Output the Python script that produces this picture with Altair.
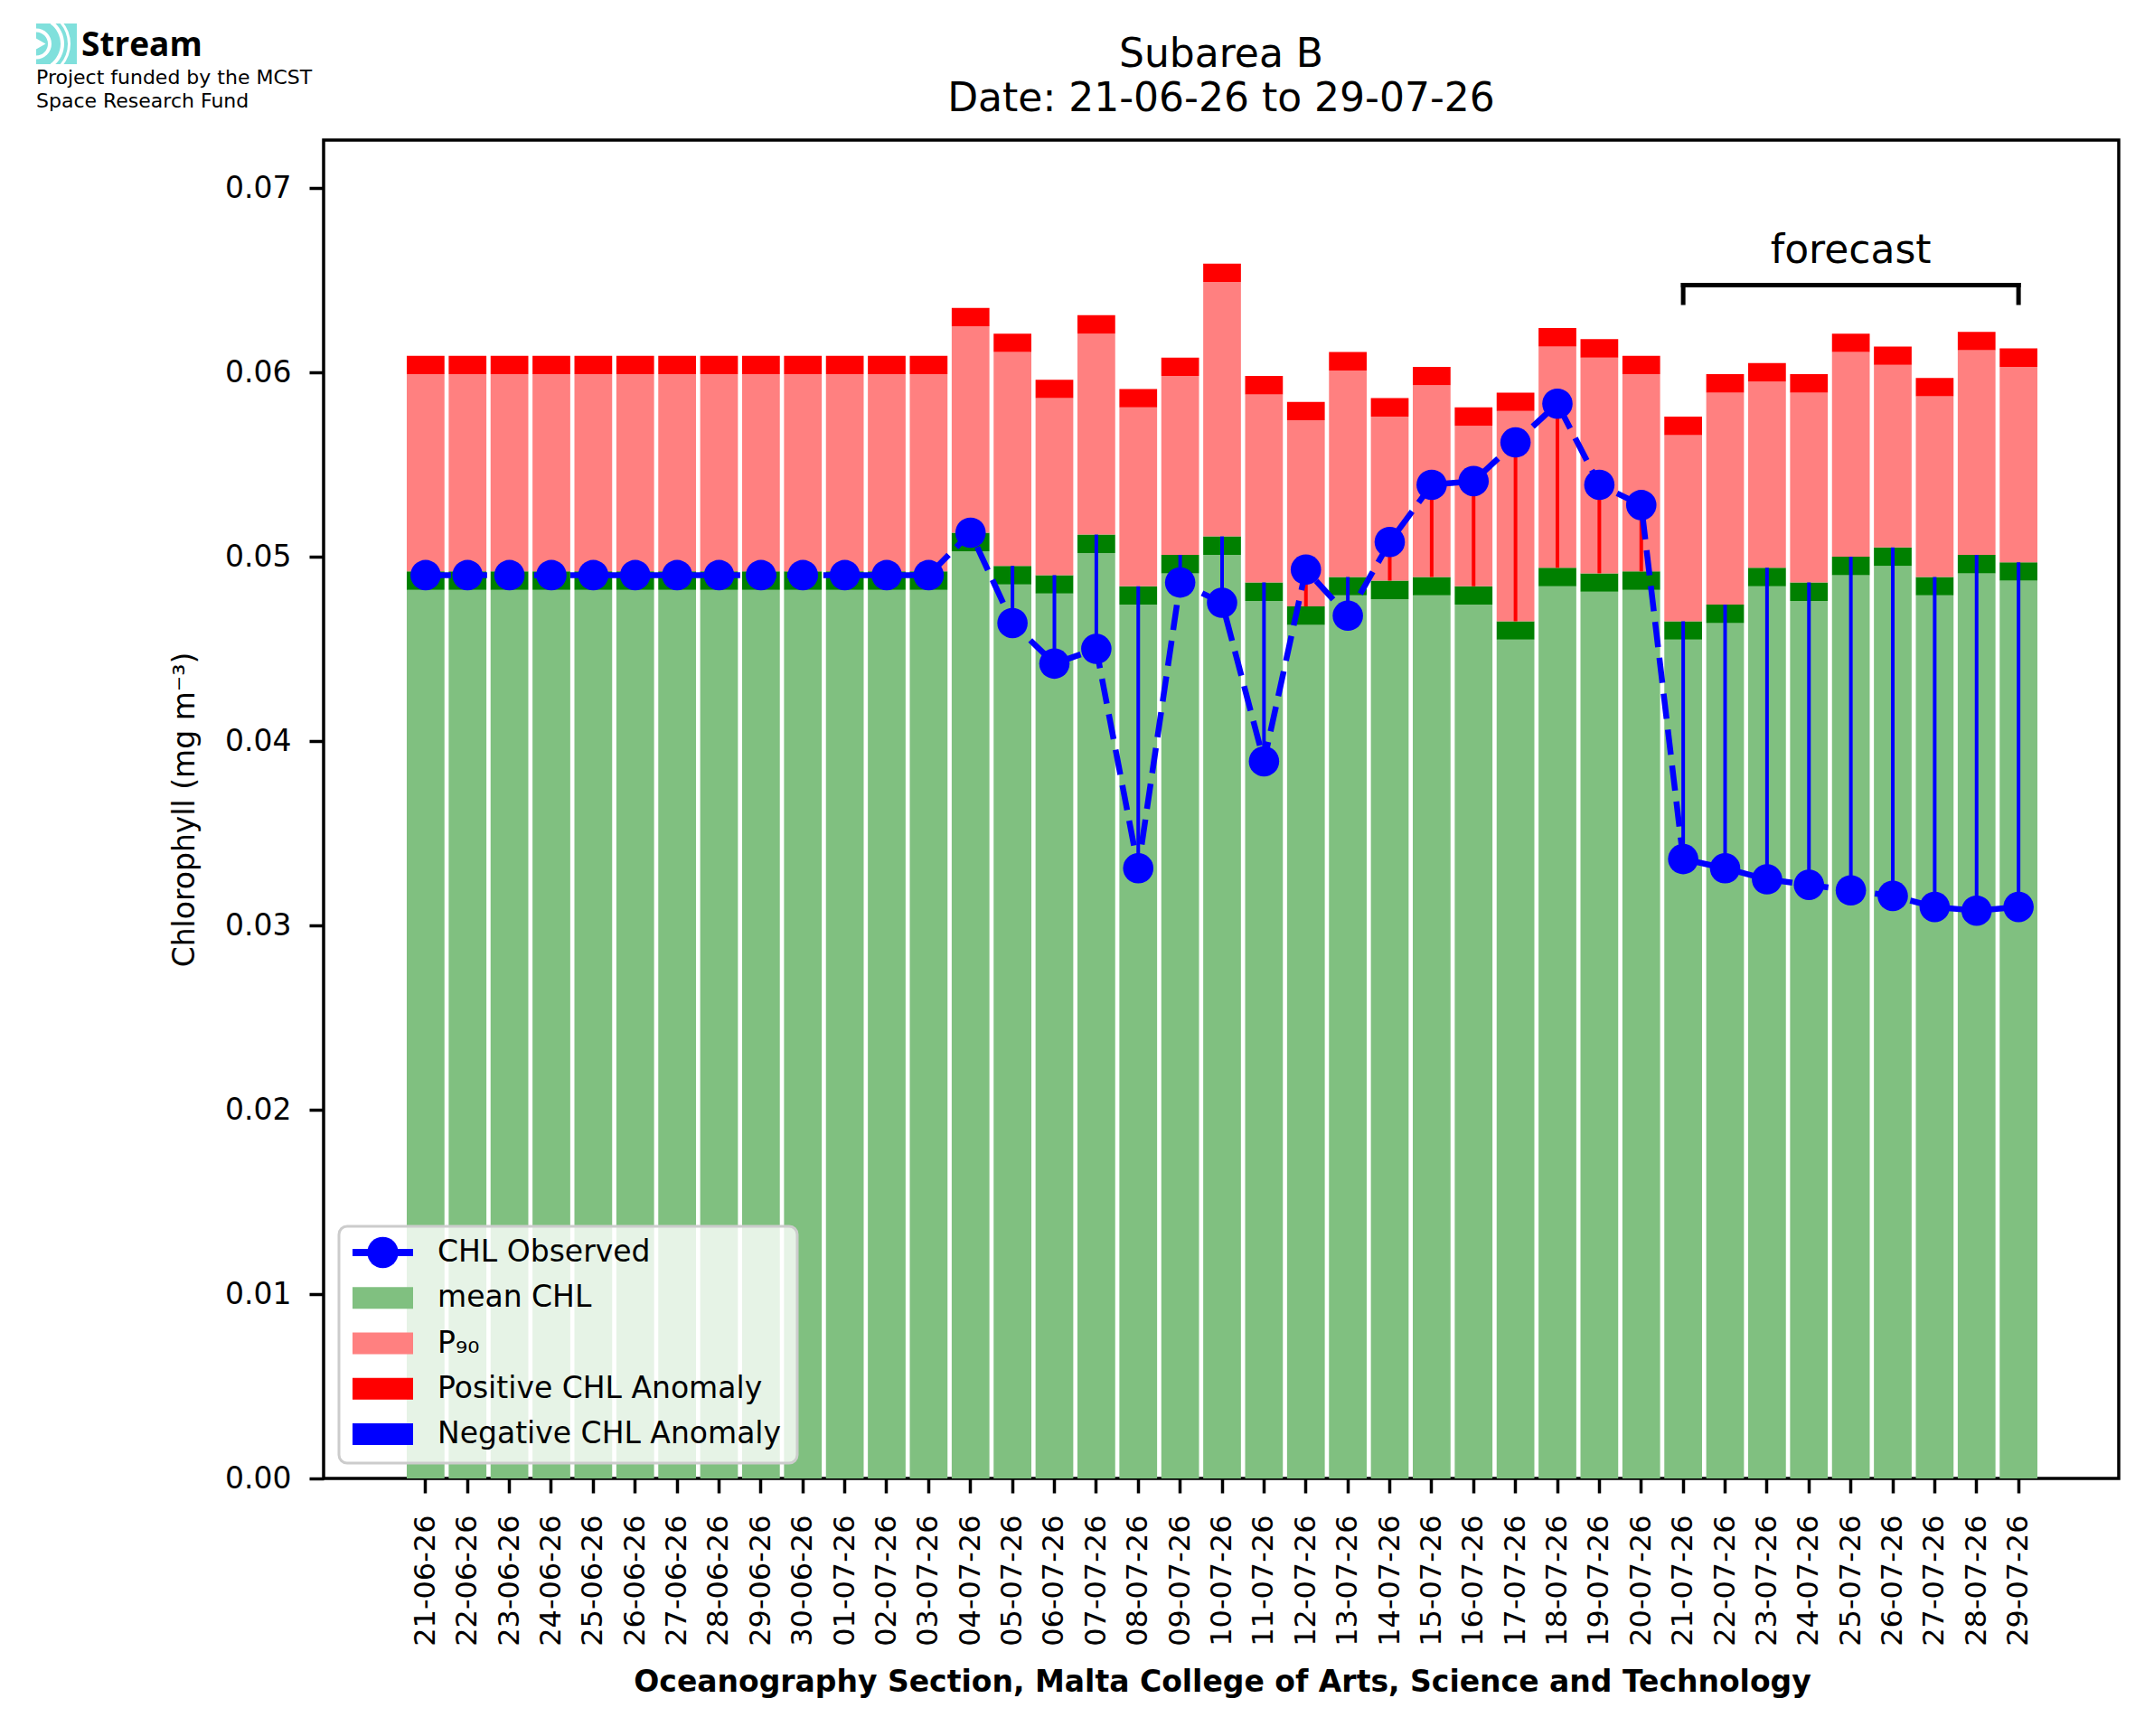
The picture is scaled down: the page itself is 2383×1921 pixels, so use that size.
import altair as alt
import pandas as pd

# ---- data ------------------------------------------------------------------
dates = [
    "21-06-26", "22-06-26", "23-06-26", "24-06-26", "25-06-26", "26-06-26",
    "27-06-26", "28-06-26", "29-06-26", "30-06-26", "01-07-26", "02-07-26",
    "03-07-26", "04-07-26", "05-07-26", "06-07-26", "07-07-26", "08-07-26",
    "09-07-26", "10-07-26", "11-07-26", "12-07-26", "13-07-26", "14-07-26",
    "15-07-26", "16-07-26", "17-07-26", "18-07-26", "19-07-26", "20-07-26",
    "21-07-26", "22-07-26", "23-07-26", "24-07-26", "25-07-26", "26-07-26",
    "27-07-26", "28-07-26", "29-07-26",
]
mean_chl = [
    0.0492, 0.0492, 0.0492, 0.0492, 0.0492, 0.0492, 0.0492, 0.0492, 0.0492,
    0.0492, 0.0492, 0.0492, 0.0492, 0.0513, 0.0495, 0.0490, 0.0512, 0.0484,
    0.0501, 0.0511, 0.0486, 0.0473, 0.0489, 0.0487, 0.0489, 0.0484, 0.0465,
    0.0494, 0.0491, 0.0492, 0.0465, 0.0474, 0.0494, 0.0486, 0.0500, 0.0505,
    0.0489, 0.0501, 0.0497,
]
p90_chl = [
    0.0599, 0.0599, 0.0599, 0.0599, 0.0599, 0.0599, 0.0599, 0.0599, 0.0599,
    0.0599, 0.0599, 0.0599, 0.0599, 0.0625, 0.0611, 0.0586, 0.0621, 0.0581,
    0.0598, 0.0649, 0.0588, 0.0574, 0.0601, 0.0576, 0.0593, 0.0571, 0.0579,
    0.0614, 0.0608, 0.0599, 0.0566, 0.0589, 0.0595, 0.0589, 0.0611, 0.0604,
    0.0587, 0.0612, 0.0603,
]
observed = [
    0.0490, 0.0490, 0.0490, 0.0490, 0.0490, 0.0490, 0.0490, 0.0490, 0.0490,
    0.0490, 0.0490, 0.0490, 0.0490, 0.0513, 0.0464, 0.0442, 0.0450, 0.0331,
    0.0486, 0.0475, 0.0389, 0.0493, 0.0468, 0.0508, 0.0539, 0.0541, 0.0562,
    0.0583, 0.0539, 0.0528, 0.0336, 0.0331, 0.0325, 0.0322, 0.0319, 0.0316,
    0.0310, 0.0308, 0.0310,
]
band = 0.001  # thickness of the mean / anomaly bands
forecast_span = ["21-07-26", "29-07-26"]
forecast_mid = ["25-07-26"]
y_ticks = [0.0, 0.01, 0.02, 0.03, 0.04, 0.05, 0.06, 0.07]

legend_labels = ["CHL Observed", "mean CHL", "P₉₀", "Positive CHL Anomaly", "Negative CHL Anomaly"]
legend_colors = ["#0000ff", "#80c080", "#ff8080", "#ff0000", "#0000ff"]

FONT = "DejaVu Sans"
W, H = 1986, 1481

df = pd.DataFrame({"date": dates, "mean_chl": mean_chl, "p90": p90_chl, "observed": observed})
one = pd.DataFrame({"k": [0]})

x_enc = alt.X(
    "date:N", sort=None,
    scale=alt.Scale(paddingInner=0.1, paddingOuter=0, range=[92, 1896]),
    axis=alt.Axis(
        title="Oceanography Section, Malta College of Arts, Science and Technology",
        titleFontWeight="bold", titleFontSize=33, titlePadding=24,
        labelAngle=-90, labelFontSize=32, labelPadding=24,
        tickSize=16, tickWidth=3.5, tickColor="black", domain=False,
    ),
)
y_scale = alt.Scale(domain=[0, 0.0726], nice=False, zero=False)
y_axis = alt.Axis(
    title="Chlorophyll (mg m⁻³)", titleFontWeight="normal", titleFontSize=33, titlePadding=27,
    values=y_ticks, format=".2f", labelFontSize=33, labelPadding=20,
    tickSize=16, tickWidth=3.5, tickColor="black", domain=False, grid=False,
)


def Y(field):
    return alt.Y(field, scale=y_scale, axis=y_axis)


base = alt.Chart(df).transform_calculate(
    green_top=f"datum.mean_chl - {band}",
    red_top=f"datum.p90 + {band}",
    anom="datum.observed > datum.mean_chl ? '#ff0000' : '#0000ff'",
)

light = base.mark_bar(color="#80c080").encode(x=x_enc, y=Y("green_top:Q"))
dark = base.mark_bar(color="#008000").encode(x=x_enc, y=Y("green_top:Q"), y2="mean_chl:Q")
pink = base.mark_bar(color="#ff8080").encode(x=x_enc, y=Y("mean_chl:Q"), y2="p90:Q")
red = base.mark_bar(color="#ff0000").encode(x=x_enc, y=Y("p90:Q"), y2="red_top:Q")
anomaly = base.mark_rule(strokeWidth=4).encode(
    x=x_enc, y=Y("observed:Q"), y2="mean_chl:Q", color=alt.Color("anom:N", scale=None)
)
obs_line = base.mark_line(color="#0000ff", strokeWidth=6.5, strokeDash=[28, 12]).encode(
    x=x_enc, y=Y("observed:Q")
)
obs_pts = base.mark_circle(color="#0000ff", size=1130, opacity=1).encode(x=x_enc, y=Y("observed:Q"))

# forecast bracket
fc = alt.Chart(pd.DataFrame({"date": forecast_span}))
fc_top = fc.mark_line(color="black", strokeWidth=5, strokeCap="square").encode(x=x_enc, y=alt.value(160.5))
fc_legs = fc.mark_rule(color="black", strokeWidth=5, strokeCap="square").encode(
    x=x_enc, y=alt.value(160.5), y2=alt.value(180)
)
fc_text = alt.Chart(pd.DataFrame({"date": forecast_mid})).mark_text(
    text="forecast", font=FONT, fontSize=44, baseline="alphabetic"
).encode(x=x_enc, y=alt.value(136))

# title
title1 = alt.Chart(one).mark_text(text="Subarea B", font=FONT, fontSize=44, baseline="alphabetic").encode(
    x=alt.value(W / 2), y=alt.value(-81)
)
title2 = alt.Chart(one).mark_text(
    text="Date: 21-06-26 to 29-07-26", font=FONT, fontSize=44, baseline="alphabetic"
).encode(x=alt.value(W / 2), y=alt.value(-32))

# legend
leg_box = alt.Chart(one).mark_rect(
    fill="white", fillOpacity=0.8, stroke="#cccccc", strokeWidth=3, cornerRadius=9
).encode(x=alt.value(17), x2=alt.value(524), y=alt.value(1202), y2=alt.value(1464))
leg_rows = [1231, 1281.3, 1331.5, 1381.8, 1432]
leg_line = alt.Chart(one).mark_rule(color=legend_colors[0], strokeWidth=8).encode(
    x=alt.value(32), x2=alt.value(99), y=alt.value(leg_rows[0])
)
leg_dot = alt.Chart(one).mark_circle(color=legend_colors[0], size=1190, opacity=1).encode(
    x=alt.value(65.5), y=alt.value(leg_rows[0])
)
leg_rects = [
    alt.Chart(one).mark_rect(color=c).encode(
        x=alt.value(32), x2=alt.value(99), y=alt.value(yc - 12), y2=alt.value(yc + 12)
    )
    for c, yc in zip(legend_colors[1:], leg_rows[1:])
]
leg_text = [
    alt.Chart(one).mark_text(text=t, font=FONT, fontSize=33, align="left", baseline="middle").encode(
        x=alt.value(126), y=alt.value(yc)
    )
    for t, yc in zip(legend_labels, leg_rows)
]

# logo block (top left)
logo_bg = alt.Chart(one).mark_rect(color="#80e0dc").encode(
    x=alt.value(-318), x2=alt.value(-273), y=alt.value(-129), y2=alt.value(-84)
)
logo_arcs = [
    alt.Chart(one).mark_arc(color="white").encode(
        x=alt.value(-318), y=alt.value(-106.5), theta=alt.value(t1), theta2=alt.value(t2),
        radius=alt.value(r1), radius2=alt.value(r2)
    )
    for t1, t2, r1, r2 in [(0.0, 3.1416, 17, 13), (0.62, 2.52, 31, 27), (0.85, 2.29, 38, 35)]
]
logo_notch = alt.Chart(one).mark_point(shape="triangle-right", filled=True, color="white", size=160, opacity=1).encode(
    x=alt.value(-313), y=alt.value(-106.5)
)
logo_name = alt.Chart(one).mark_text(
    text="Stream", font="Open Sans", fontWeight="bold", fontSize=37, align="left", baseline="alphabetic"
).encode(x=alt.value(-268), y=alt.value(-93))
logo_l1 = alt.Chart(one).mark_text(
    text="Project funded by the MCST", font=FONT, fontSize=22, align="left", baseline="alphabetic"
).encode(x=alt.value(-318), y=alt.value(-62))
logo_l2 = alt.Chart(one).mark_text(
    text="Space Research Fund", font=FONT, fontSize=22, align="left", baseline="alphabetic"
).encode(x=alt.value(-318), y=alt.value(-36))

chart = (
    alt.layer(
        light, dark, pink, red, anomaly, obs_line, obs_pts,
        fc_top, fc_legs, fc_text, title1, title2,
        leg_box, leg_line, leg_dot, *leg_rects, *leg_text,
        logo_bg, *logo_arcs, logo_notch, logo_name, logo_l1, logo_l2,
    )
    .properties(
        width=W, height=H,
        autosize=alt.AutoSizeParams(type="none"),
        padding={"left": 350, "top": 147, "right": 30, "bottom": 275},
    )
    .configure(font=FONT)
    .configure_view(stroke="black", strokeWidth=3.5)
    .configure_axis(labelColor="black", titleColor="black", labelFont=FONT, titleFont=FONT)
)

chart.save("out.html", embed_options={"renderer": "svg", "actions": False})
